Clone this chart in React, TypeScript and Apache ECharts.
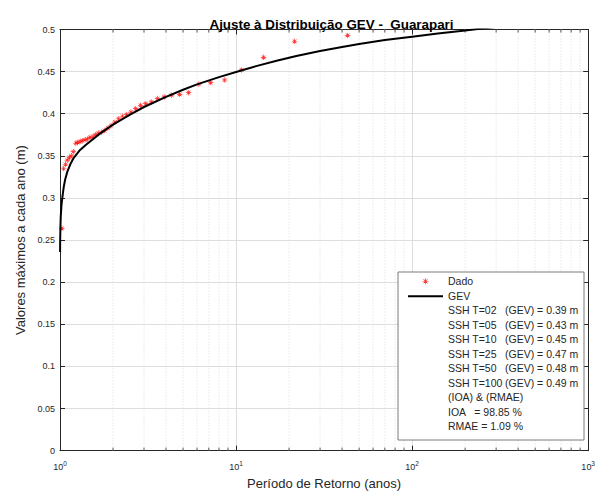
import React, { useEffect, useRef } from "react";
import * as echarts from "echarts";

const TITLE = "Ajuste à Distribuição GEV -  Guarapari";
const X_NAME = "Período de Retorno (anos)";
const Y_NAME = "Valores máximos a cada ano (m)";

// Observed annual maxima (Dado): return period (years) and value (m)
const dataPeriods = [43, 21.5, 14.33, 10.75, 8.6, 7.17, 6.14, 5.375, 4.78, 4.3, 3.91, 3.58, 3.31, 3.07, 2.87, 2.69, 2.53, 2.39, 2.26, 2.15, 2.05, 1.95, 1.87, 1.79, 1.72, 1.65, 1.59, 1.54, 1.48, 1.43, 1.39, 1.34, 1.3, 1.26, 1.23, 1.19, 1.16, 1.13, 1.1, 1.075, 1.049, 1.024];
const dataValues = [0.493, 0.486, 0.467, 0.452, 0.44, 0.437, 0.435, 0.425, 0.423, 0.422, 0.42, 0.418, 0.414, 0.412, 0.41, 0.406, 0.402, 0.399, 0.397, 0.394, 0.39, 0.386, 0.383, 0.38, 0.378, 0.377, 0.375, 0.373, 0.372, 0.37, 0.369, 0.368, 0.367, 0.366, 0.365, 0.355, 0.35, 0.348, 0.345, 0.34, 0.335, 0.264];

// Fitted GEV curve
const curvePeriods = [1.001, 1.002, 1.005, 1.01, 1.02, 1.035, 1.05, 1.07, 1.1, 1.15, 1.2, 1.3, 1.4, 1.5, 1.7, 2, 2.5, 3, 4, 5, 6, 8, 10, 13, 17, 22, 30, 40, 50, 70, 100, 140, 200, 230, 300, 500, 1000];
const curveValues = [0.236, 0.247, 0.264, 0.278, 0.292, 0.303, 0.313, 0.322, 0.331, 0.341, 0.348, 0.357, 0.363, 0.368, 0.377, 0.387, 0.399, 0.408, 0.42, 0.4285, 0.4348, 0.4435, 0.4495, 0.4565, 0.4628, 0.4685, 0.4745, 0.4793, 0.4828, 0.4875, 0.4915, 0.4953, 0.4988, 0.5003, 0.503, 0.507, 0.511];

// Minor tick values of the log axis
const minorTickValues = [2, 3, 4, 5, 6, 7, 8, 9, 20, 30, 40, 50, 60, 70, 80, 90, 200, 300, 400, 500, 600, 700, 800, 900];

// Legend text rows
const sshLabels = ["SSH T=02", "SSH T=05", "SSH T=10", "SSH T=25", "SSH T=50", "SSH T=100"];
const sshValues = ["(GEV) = 0.39 m", "(GEV) = 0.43 m", "(GEV) = 0.45 m", "(GEV) = 0.47 m", "(GEV) = 0.48 m", "(GEV) = 0.49 m"];
const statLines = ["(IOA) & (RMAE)", "IOA   = 98.85 %", "RMAE = 1.09 %"];

const FONT = "'Liberation Sans', Arial, Helvetica, sans-serif";
const AXIS_COLOR = "#262626";
const ASTERISK =
  "path://M0,4.4L10,4.4L10,5.6L0,5.6Z M4.4,0L5.6,0L5.6,10L4.4,10Z M1.2,2L2,1.2L8.8,8L8,8.8Z M8,1.2L8.8,2L2,8.8L1.2,8Z";
const LINE_ICON = "path://M0,0L35,0L35,2L0,2Z";

export default function App() {
  const ref = useRef<HTMLDivElement>(null);

  useEffect(() => {
    if (!ref.current) return;
    const chart = echarts.init(ref.current, undefined, { renderer: "svg" });

    const gridLeft = 60;
    const gridTop = 29.5;
    const gridRight = 5;
    const gridBottom = 45.3;

    const legendLeft = 398;
    const legendTop = 272;
    const rowPitch = 14.5;
    const firstRowY = 281;
    const textX = 448;
    const valueX = 505;

    const graphics: any[] = [
      {
        type: "rect",
        z: 3,
        shape: { x: legendLeft, y: legendTop, width: 186, height: 168 },
        style: { fill: "#ffffff", stroke: "#7a7a7a", lineWidth: 1 },
      },
    ];
    sshLabels.forEach((lab, i) => {
      const y = firstRowY + rowPitch * (i + 2);
      graphics.push({
        type: "text",
        z: 5,
        x: textX,
        y,
        style: { text: lab, fill: AXIS_COLOR, font: `10.5px ${FONT}`, verticalAlign: "middle" },
      });
      graphics.push({
        type: "text",
        z: 5,
        x: valueX,
        y,
        style: { text: sshValues[i], fill: AXIS_COLOR, font: `10.5px ${FONT}`, verticalAlign: "middle" },
      });
    });
    statLines.forEach((s, i) => {
      const y = firstRowY + rowPitch * (i + 8);
      graphics.push({
        type: "text",
        z: 5,
        x: textX,
        y,
        style: { text: s, fill: AXIS_COLOR, font: `10.5px ${FONT}`, verticalAlign: "middle" },
      });
    });

    const yTickFmt = (v: number) => String(+v.toFixed(2));
    const xTickFmt = (v: number) => `{b|10}{s|${Math.round(Math.log10(v))}}`;

    const option: any = {
      animation: false,
      backgroundColor: "#ffffff",
      title: {
        text: TITLE,
        left: gridLeft + (598 - gridLeft - gridRight) / 2,
        top: 12.5,
        textAlign: "center",
        textStyle: { fontSize: 13.4, fontWeight: "bold", color: "#000", fontFamily: FONT },
      },
      grid: { left: gridLeft, right: gridRight, top: gridTop, bottom: gridBottom },
      legend: {
        data: [
          { name: "Dado", icon: ASTERISK },
          { name: "GEV", icon: LINE_ICON },
        ],
        orient: "vertical",
        left: 403,
        top: firstRowY - 5 - 5.25,
        itemWidth: 35,
        itemHeight: 6,
        itemGap: 4,
        selectedMode: false,
        z: 6,
        textStyle: { color: AXIS_COLOR, fontSize: 10.5, fontFamily: FONT },
      },
      xAxis: [
        {
          type: "log",
          logBase: 10,
          min: 1,
          max: 1000,
          position: "bottom",
          name: X_NAME,
          nameLocation: "middle",
          nameGap: 26,
          nameTextStyle: { fontSize: 13, color: AXIS_COLOR, fontFamily: FONT },
          axisLine: { show: true, onZero: false, lineStyle: { color: AXIS_COLOR, width: 1 } },
          axisTick: { show: true, inside: true, length: 5, lineStyle: { color: AXIS_COLOR } },
          axisLabel: {
            margin: 9,
            formatter: xTickFmt,
            rich: {
              b: { fontSize: 9, color: AXIS_COLOR, fontFamily: FONT, lineHeight: 12, verticalAlign: "bottom" },
              s: { fontSize: 6.5, color: AXIS_COLOR, fontFamily: FONT, lineHeight: 12, verticalAlign: "top" },
            },
          },
          splitLine: { show: true, lineStyle: { color: "#dedede", width: 1 } },
        },
        {
          type: "log",
          logBase: 10,
          min: 1,
          max: 1000,
          position: "top",
          axisLine: { show: true, onZero: false, lineStyle: { color: AXIS_COLOR, width: 1 } },
          axisTick: { show: true, inside: true, length: 5, lineStyle: { color: AXIS_COLOR } },
          axisLabel: { show: false },
          splitLine: { show: false },
        },
      ],
      yAxis: [
        {
          type: "value",
          min: 0,
          max: 0.5,
          interval: 0.05,
          position: "left",
          name: Y_NAME,
          nameLocation: "middle",
          nameGap: 32,
          nameTextStyle: { fontSize: 13, color: AXIS_COLOR, fontFamily: FONT },
          axisLine: { show: true, onZero: false, lineStyle: { color: AXIS_COLOR, width: 1 } },
          axisTick: { show: true, inside: true, length: 5, lineStyle: { color: AXIS_COLOR } },
          axisLabel: { margin: 5, formatter: yTickFmt, fontSize: 9, color: AXIS_COLOR, fontFamily: FONT },
          splitLine: { show: true, lineStyle: { color: "#dedede", width: 1 } },
        },
        {
          type: "value",
          min: 0,
          max: 0.5,
          interval: 0.05,
          position: "right",
          axisLine: { show: true, onZero: false, lineStyle: { color: AXIS_COLOR, width: 1 } },
          axisTick: { show: true, inside: true, length: 5, lineStyle: { color: AXIS_COLOR } },
          axisLabel: { show: false },
          splitLine: { show: false },
        },
      ],
      graphic: graphics,
      series: [
        {
          type: "custom",
          name: "minor",
          xAxisIndex: 0,
          yAxisIndex: 0,
          silent: true,
          z: 1,
          data: minorTickValues.map((v) => [v, 0]),
          renderItem: (params: any, api: any) => {
            const x = api.coord([api.value(0), 0])[0];
            const cs = params.coordSys;
            const top = cs.y;
            const bottom = cs.y + cs.height;
            return {
              type: "group",
              children: [
                {
                  type: "line",
                  shape: { x1: x, y1: top, x2: x, y2: bottom },
                  style: { stroke: "#d4d4d4", lineWidth: 0.8, lineDash: [1, 2] },
                },
                {
                  type: "line",
                  shape: { x1: x, y1: bottom, x2: x, y2: bottom - 3 },
                  style: { stroke: AXIS_COLOR, lineWidth: 0.8 },
                },
                {
                  type: "line",
                  shape: { x1: x, y1: top, x2: x, y2: top + 3 },
                  style: { stroke: AXIS_COLOR, lineWidth: 0.8 },
                },
              ],
            };
          },
        },
        {
          type: "scatter",
          name: "Dado",
          xAxisIndex: 0,
          yAxisIndex: 0,
          symbol: ASTERISK,
          symbolSize: 5.5,
          itemStyle: { color: "#ff0000" },
          z: 3,
          data: dataPeriods.map((t, i) => [t, dataValues[i]]),
        },
        {
          type: "line",
          name: "GEV",
          xAxisIndex: 0,
          yAxisIndex: 0,
          symbol: "none",
          showSymbol: false,
          clip: true,
          smooth: false,
          lineStyle: { color: "#000000", width: 2 },
          itemStyle: { color: "#000000" },
          z: 4,
          data: curvePeriods.map((t, i) => [t, curveValues[i]]),
        },
      ],
    };

    chart.setOption(option);
    return () => chart.dispose();
  }, []);

  return (
    <div
      ref={ref}
      style={{ position: "fixed", left: 0, top: 0, width: 598, height: 496, background: "#fff" }}
    />
  );
}
